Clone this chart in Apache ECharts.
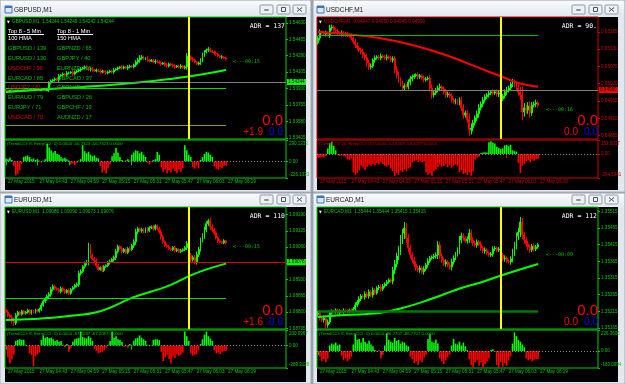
<!DOCTYPE html>
<html>
<head>
<meta charset="utf-8">
<script src="https://cdn.jsdelivr.net/npm/echarts@6.0.0/dist/echarts.min.js"></script>
<style>
html,body{margin:0;padding:0;background:#8d98a5;overflow:hidden;}
#chart{width:625px;height:384px;}
</style>
</head>
<body>
<div id="chart"></div>
<script>
// ================= DATA =================
const timeTicks = ['27 May 2015','27 May 04:43','27 May 04:59','27 May 05:15','27 May 05:31','27 May 05:47','27 May 06:03','27 May 06:19'];

// GBPUSD
const gbpOpen0 = 1.53915;
const gbpClose = [1.53915,1.53904,1.53915,1.53915,1.53904,1.53915,1.53915,1.53904,1.53915,1.53915,
1.53904,1.53915,1.53915,1.53915,1.53904,1.53915,1.53915,1.53904,1.53915,1.53915,
1.53904,1.53915,1.53989,1.54011,1.54021,1.54032,1.54021,1.54064,1.54074,1.54085,
1.54074,1.54096,1.54096,1.54106,1.54085,1.54106,1.54117,1.54128,1.54138,1.54149,
1.54160,1.54149,1.54128,1.54138,1.54128,1.54117,1.54128,1.54117,1.54106,1.54117,
1.54106,1.54096,1.54106,1.54117,1.54106,1.54128,1.54138,1.54149,1.54160,1.54149,
1.54160,1.54149,1.54160,1.54170,1.54160,1.54181,1.54213,1.54234,1.54255,1.54266,
1.54245,1.54255,1.54234,1.54223,1.54234,1.54213,1.54223,1.54213,1.54202,1.54191,
1.54202,1.54181,1.54170,1.54191,1.54181,1.54170,1.54160,1.54170,1.54160,1.54170,
1.54149,1.54160,1.54277,1.54266,1.54245,1.54234,1.54213,1.54191,1.54202,1.54234,
1.54287,1.54319,1.54340,1.54351,1.54330,1.54319,1.54308,1.54298,1.54277,1.54266,
1.54266,1.54255,1.54244];
// wick length beyond the body, in points (0.00001)
const gbpWick = [0,0,0,0,0,0,0,0,0,0,0,0,0,0,0,0,0,0,0,0,0,0,
20,15,10,15,10,20,10,15,10,20, 15,10,20,15,10,15,20,10,15,20,
10,15,20,10,15,10,20,15,10,20, 15,10,15,20,10,15,10,20,15,10,
20,15,10,15,20,25,30,20,15,10, 20,15,10,15,20,10,15,20,10,15,
20,15,10,15,20,10,15,20,10,15, 30,20,15,20,15,10,15,20,25,20,
15,20,15,10,15,20,10,15,20,10, 15];
const gbpHma = [[0,1.53894],[22,1.53925],[50,1.53963],[75,1.54011],[93,1.54058],[112,1.54128]];
const gbpCci = [40,30,50,20,-60,-190,-170,-120,-30,60,70,80,60,30,40,20,30,10,-20,10,
30,240,190,150,120,140,100,90,60,40,50,30,10,-40,-30,-50,-20,10,30,220,
140,110,130,90,70,80,50,40,-60,-150,-120,-160,-90,-40,70,110,180,120,60,20,
-10,10,30,10,90,120,150,140,110,130,90,60,-20,-40,-10,20,30,130,90,-80,
-140,-110,-160,-120,-150,-100,-130,-160,-110,-140,-90,220,150,90,60,-80,-100,-60,-90,20,
60,100,130,120,90,60,-70,-100,-110,-80,-90,-60,-57];
const gbpTicks = [1.54630,1.54455,1.54280,1.54105,1.53930,1.53755,1.53580,1.53405];
const gbpGray = [1.54500,1.54000,1.53500];

// USDCHF
const chfOpen0 = 0.95150;
const chfClose = [0.95165,0.95184,0.95181,0.95178,0.95181,0.95175,0.95197,0.95200,0.95191,0.95188,
0.95181,0.95178,0.95181,0.95175,0.95178,0.95175,0.95172,0.95165,0.95153,0.95143,
0.95134,0.95127,0.95121,0.95111,0.95102,0.95086,0.95073,0.95076,0.95095,0.95102,
0.95105,0.95102,0.95108,0.95105,0.95102,0.95105,0.95102,0.95095,0.95099,0.95064,
0.95048,0.95032,0.95019,0.95006,0.95013,0.95010,0.95025,0.95035,0.95041,0.95045,
0.95048,0.95041,0.95045,0.95038,0.95032,0.95035,0.95038,0.95006,0.94984,0.94990,
0.95000,0.95006,0.95010,0.95003,0.94994,0.94984,0.94987,0.94981,0.94968,0.94962,
0.94965,0.94959,0.94968,0.94943,0.94920,0.94927,0.94905,0.94873,0.94879,0.94895,
0.94911,0.94924,0.94943,0.94955,0.94968,0.94978,0.94984,0.94990,0.94994,0.94990,
0.94994,0.94987,0.94990,0.94971,0.94981,0.94994,0.95000,0.95006,0.95019,0.95025,
0.95016,0.95006,0.94994,0.94984,0.94930,0.94943,0.94936,0.94949,0.94927,0.94952,
0.94955,0.94959,0.94950];
const chfWick = [6,8,5,6,8,5,10,8,6,5, 6,5,8,6,5,6,5,8,6,10, 8,6,8,10,8,12,10,8,6,8,
5,6,8,5,6,8,5,6,8,10, 12,10,8,10,8,6,8,10,8,6, 5,8,6,5,8,6,5,10,12,8,
6,8,10,6,8,10,8,6,8,6, 8,6,8,10,12,8,10,20,15,10, 8,10,12,8,10,8,6,8,6,8,
6,8,10,8,6,8,10,8,6,10, 8,10,12,15,25,15,10,12,15,10, 8,10,6];
const chfMa = [[0,0.95184],[14,0.95178],[31,0.95165],[48,0.95143],[65,0.95111],[82,0.95070],[94,0.95041],[102,0.95022],[112,0.95010]];
const chfCci = [-30,-40,-35,-40,-20,60,120,135,90,40,-10,-20,-15,-25,-30,-60,-70,-50,-200,-230,
-210,-180,-130,-150,-175,-140,-120,-130,-110,-125,-100,-115,-95,-110,-130,-140,-120,-160,-190,-240,
-210,-230,-180,-200,-170,-190,-160,-150,-90,-80,-70,-85,-75,-90,-80,-200,-230,-210,-240,-190,
-170,-150,-120,-140,-130,-110,-145,-125,-150,-130,-115,-135,-200,-180,-220,-210,-230,-200,-240,-190,
-60,-40,-30,10,15,20,15,130,140,125,115,80,65,55,60,95,100,85,100,40,
30,25,-100,-210,-130,-110,-80,-70,-90,-60,-75,-55,-54];
const chfTicks = [0.95185,0.95130,0.95075,0.95020,0.94965,0.94910,0.94855];
const chfGray = [0.95000];

// EURUSD
const eurOpen0 = 1.08810;
const eurClose = [1.08800,1.08788,1.08780,1.08765,1.08757,1.08788,1.08800,1.08792,1.08804,1.08796,
1.08800,1.08808,1.08796,1.08804,1.08800,1.08808,1.08804,1.08812,1.08828,1.08844,
1.08852,1.08864,1.08872,1.08891,1.08903,1.08895,1.08891,1.08883,1.08895,1.08887,
1.08879,1.08887,1.08876,1.08891,1.08899,1.08907,1.08911,1.08955,1.08963,1.08982,
1.08994,1.09002,1.09062,1.09026,1.09014,1.09006,1.08986,1.08971,1.08978,1.08967,
1.08982,1.08986,1.08998,1.09002,1.09010,1.09018,1.09042,1.09062,1.09054,1.09042,
1.09050,1.09038,1.09054,1.09050,1.09066,1.09081,1.09121,1.09133,1.09125,1.09129,
1.09121,1.09133,1.09125,1.09137,1.09141,1.09133,1.09145,1.09133,1.09121,1.09101,
1.09081,1.09066,1.09062,1.09054,1.09050,1.09058,1.09046,1.09050,1.09042,1.09046,
1.09050,1.09058,1.09074,1.09026,1.09010,1.09018,1.09002,1.09030,1.09050,1.09089,
1.09105,1.09129,1.09153,1.09165,1.09141,1.09129,1.09117,1.09097,1.09085,1.09081,
1.09077,1.09085,1.09076];
const eurWick = [6,8,6,10,12,8,6,5,6,5, 5,6,5,6,5,6,5,6,8,6, 8,6,8,10,8,6,5,6,8,5,
6,5,8,6,5,6,8,10,8,6, 8,6,15,10,8,6,8,6,5,8, 6,5,6,8,6,8,10,8,6,8,
6,5,6,8,6,10,12,8,6,8, 6,5,8,6,5,8,6,5,8,10, 8,6,8,6,5,6,8,6,5,6,
5,6,10,12,10,8,10,12,10,8, 10,12,10,8,12,10,8,6,8,6, 5,6,5];
const eurMa = [[0,1.08769],[14,1.08773],[31,1.08784],[48,1.08804],[65,1.08860],[82,1.08903],[94,1.08947],[102,1.08971],[112,1.08994]];
const eurCci = [-30,-150,-230,-180,-120,60,70,80,70,75,10,-10,-100,-120,-270,-140,-110,-90,70,130,
100,110,95,100,80,60,70,50,60,10,-20,20,-80,-30,50,80,90,100,180,110,
100,90,120,100,60,-40,-70,-100,-90,-80,-60,-30,10,60,180,100,120,80,70,50,
-20,10,-30,20,-10,60,90,100,130,100,80,60,10,-10,5,70,80,80,70,-80,
-200,-150,-120,-170,-230,-140,-160,-110,-130,-120,-90,180,120,60,-100,-130,-120,-110,-60,20,
80,140,180,120,90,60,-60,-100,-90,-110,-80,-70,-67];
const eurTicks = [1.09190,1.09125,1.09060,1.08995,1.08930,1.08865,1.08800,1.08735];
const eurGray = [1.09000,1.08750];

// EURCAD
const cadOpen0 = 1.35205;
const cadClose = [1.35210,1.35195,1.35189,1.35195,1.35174,1.35183,1.35210,1.35216,1.35213,1.35219,
1.35210,1.35216,1.35213,1.35219,1.35216,1.35213,1.35219,1.35216,1.35222,1.35234,
1.35243,1.35252,1.35261,1.35258,1.35267,1.35261,1.35273,1.35264,1.35279,1.35270,
1.35285,1.35288,1.35282,1.35291,1.35297,1.35303,1.35309,1.35306,1.35339,1.35357,
1.35381,1.35399,1.35429,1.35450,1.35465,1.35435,1.35405,1.35384,1.35369,1.35357,
1.35345,1.35339,1.35345,1.35333,1.35342,1.35354,1.35366,1.35375,1.35378,1.35381,
1.35384,1.35414,1.35381,1.35369,1.35357,1.35363,1.35354,1.35348,1.35363,1.35375,
1.35387,1.35399,1.35429,1.35441,1.35435,1.35426,1.35432,1.35450,1.35429,1.35420,
1.35414,1.35423,1.35417,1.35405,1.35396,1.35399,1.35390,1.35384,1.35387,1.35402,
1.35405,1.35399,1.35402,1.35384,1.35372,1.35375,1.35366,1.35363,1.35372,1.35393,
1.35411,1.35441,1.35453,1.35483,1.35444,1.35429,1.35417,1.35408,1.35399,1.35411,
1.35402,1.35408,1.35415];
const cadWick = [6,8,6,8,10,8,6,5,4,5, 4,5,4,5,4,5,4,5,6,8, 6,8,6,5,8,6,8,6,8,6,
5,6,8,6,5,6,5,6,10,12, 10,12,15,12,18,15,12,10,8,10, 8,6,8,6,8,6,8,6,5,6,
8,12,10,8,6,8,6,8,10,8, 6,8,12,10,8,6,8,12,10,8, 6,8,6,8,6,8,6,5,6,8,
6,5,6,8,6,8,6,5,8,10, 12,10,12,15,12,10,8,10,8,6, 8,6,5];
const cadMa = [[0,1.35198],[14,1.35204],[31,1.35210],[43,1.35225],[56,1.35249],[73,1.35285],[82,1.35300],[94,1.35324],[102,1.35339],[112,1.35357]];
const cadCci = [-20,-60,-110,-90,-120,-80,60,80,70,90,60,70,-50,-100,-80,-110,-90,-60,70,180,
120,130,90,140,100,80,110,70,50,10,-10,5,-80,-40,60,190,120,100,90,140,
110,120,80,100,90,60,50,-60,-90,-130,-110,-150,-100,-120,-70,-40,130,180,100,90,
120,80,-80,-110,-140,-100,-70,-40,60,130,80,70,100,60,90,50,10,-90,-150,-180,
-120,-100,-160,-120,-180,-140,-110,-80,10,20,-10,-150,-180,-120,-170,-130,-160,-100,-60,80,
200,160,120,100,70,40,-80,-100,-90,-110,-95,-85,-87];
const cadTicks = [1.35515,1.35465,1.35415,1.35365,1.35315,1.35265,1.35215,1.35165];
const cadGray = [1.35480,1.35230];

// Top 8 lists (GBPUSD window)
const top5Min = [['GBPUSD / 139','g'],['EURUSD / 130','g'],['USDCHF / 96','r'],['EURCAD / 85','g'],['USDJPY / 81','r'],['EURAUD / 79','g'],['EURJPY / 71','g'],['USDCAD / 70','r']];
const top1Min = [['GBPNZD / 65','g'],['GBPJPY / 40','g'],['EURNZD / 38','g'],['GBPCAD / 37','g'],['GBPAUD / 27','g'],['GBPUSD / 26','g'],['GBPCHF / 19','g'],['AUDNZD / 17','g']];

// ================= BUILD =================
const SANS = 'Liberation Sans', MONO = 'DejaVu Sans Mono';
const UP = '#00ff00', DOWN = '#ff0000';
const GREEN = '#00d000', REDFG = '#d00000';
const categories = [];
for (let k = 0; k < 143; k++) {
  const m = 4 * 60 + 27 + k;
  categories.push(String(Math.floor(m / 60)).padStart(2, '0') + ':' + String(m % 60).padStart(2, '0'));
}
const LAST = 112, VLINE = 93;

const panels = [
  {title:'GBPUSD,M1', ox:0, oy:0, fg:GREEN, open0:gbpOpen0, close:gbpClose, wick:gbpWick, ma:gbpHma, maColor:'#00ff00',
   cci:gbpCci, cciMax:290.1333, cciMin:-226.1333, min:1.53393, max:1.54692, ticks:gbpTicks, gray:gbpGray,
   full:[], segs:[{v:1.53936,c:'#00e000',w:1},{v:1.53542,c:'#9a9a00',w:1}], box:'#00ff00', boxText:'#000',
   ohlc:'GBPUSD,M1  1.54244 1.54249 1.54242 1.54244', adr:'ADR = 137', arrow:'<---00:15', ax:233, ay:62,
   small:'+1.9', bigR:283, smR:263, bluR:283,
   cciHead:'(TrendCCI: 8, EntryCCI: 0) 0.0000 -56.7323 -56.7323 0.0000'},
  {title:'USDCHF,M1', ox:312, oy:0, fg:REDFG, open0:chfOpen0, close:chfClose, wick:chfWick, ma:chfMa, maColor:'#ff0000',
   cci:chfCci, cciMax:153.5037, cciMin:-264.5341, min:0.94844, max:0.95232, ticks:chfTicks, gray:chfGray,
   full:[], segs:[{v:0.95175,c:'#00c000',w:1}], box:'#ff0000', boxText:'#000',
   ohlc:'USDCHF,M1  0.94947 0.94950 0.94945 0.94950', adr:'ADR = 90.', arrow:'<---00:16', ax:546, ay:110,
   small:'0.0', bigR:598, smR:578, bluR:598,
   cciHead:'(TrendCCI: 20, EntryCCI: 0) 0.0000 -54.4259 -54.4259 0.0000'},
  {title:'EURUSD,M1', ox:0, oy:190, fg:GREEN, open0:eurOpen0, close:eurClose, wick:eurWick, ma:eurMa, maColor:'#00ff00',
   cci:eurCci, cciMax:200.0967, cciMin:-289.3128, min:1.08733, max:1.09220, ticks:eurTicks, gray:eurGray,
   full:[{v:1.09180,c:'#e00000'}], segs:[{v:1.08856,c:'#00e000',w:1}], box:'#00ff00', boxText:'#000',
   ohlc:'EURUSD,M1  1.09086 1.09090 1.09073 1.09076', adr:'ADR = 110', arrow:'<---00:15', ax:233, ay:247,
   small:'+1.6', bigR:283, smR:263, bluR:283,
   cciHead:'(TrendCCI: 8, EntryCCI: 0) 0.0000 -67.2087 -67.2087 0.0000'},
  {title:'EURCAD,M1', ox:312, oy:190, fg:GREEN, open0:cadOpen0, close:cadClose, wick:cadWick, ma:cadMa, maColor:'#00ff00',
   cci:cadCci, cciMax:226.3606, cciMin:-183.0994, min:1.35162, max:1.35528, ticks:cadTicks, gray:cadGray,
   full:[], segs:[{v:1.35216,c:'#007a00',w:2.5}], box:'#00ff00', boxText:'#000',
   ohlc:'EURCAD,M1  1.35444 1.35444 1.35415 1.35415', adr:'ADR = 112', arrow:'<---00:09', ax:546, ay:255,
   small:'0.0', bigR:598, smR:578, bluR:598,
   cciHead:'(TrendCCI: 8, EntryCCI: 0) 0.0000 -86.7707 -86.7707 0.0000'}
];

function candles(open0, closes, wick) {
  return closes.map((c, i) => {
    const o = i === 0 ? open0 : closes[i - 1];
    const w = wick[i] * 0.00001;
    return [o, c, Math.min(o, c) - w, Math.max(o, c) + w];
  });
}
function boxLabel(text, bg, fg) {
  return {show:true, position:'end', distance:1, formatter:text, backgroundColor:bg, color:fg,
          fontSize:4.6, fontFamily:SANS, padding:[1,1,0,1], lineHeight:5};
}
function txt(x, y, text, fill, size, family, align, extra) {
  return Object.assign({type:'text', z:100, x:x, y:y, silent:true,
    style:{text:text, fill:fill, fontSize:size, fontFamily:family || SANS, align:align || 'left', verticalAlign:'middle'}}, extra || {});
}

const grids = [], xAxes = [], yAxes = [], series = [], elems = [];
const tickFn = (i) => i % 16 === 0 && i <= LAST;

panels.forEach((p, k) => {
  const gl = p.ox + 5, gt = p.oy + 17;
  // ---- window chrome ----
  const wx = p.ox === 0 ? 0 : 313, ww = p.ox === 0 ? 311 : 312;
  const wy = p.oy === 0 ? 0 : 193, wh = p.oy === 0 ? 192 : 191;
  const ty = p.oy === 0 ? 1 : 194;
  elems.push({type:'rect', z:-30, silent:true, shape:{x:wx, y:wy, width:ww, height:wh}, style:{fill:'#e3e8ee', stroke:'#a3adb8', lineWidth:1}});
  elems.push({type:'rect', z:-29, silent:true, shape:{x:wx+1, y:ty, width:ww-2, height:15},
    style:{fill:new echarts.graphic.LinearGradient(0,0,0,1,[{offset:0,color:'#f9fafc'},{offset:1,color:'#e1e7ee'}])}});
  elems.push({type:'rect', z:-28, silent:true, shape:{x:p.ox+5, y:p.oy+6, width:7, height:7}, style:{fill:'#dce9f7', stroke:'#3d76b8', lineWidth:1}});
  elems.push({type:'rect', z:-27, silent:true, shape:{x:p.ox+5, y:p.oy+6, width:7, height:2}, style:{fill:'#3d76b8'}});
  elems.push(txt(p.ox+14, p.oy+10, p.title, '#222', 6.5, SANS, 'left', {z:-27}));
  const bx = [p.ox+260, p.ox+277, p.ox+293];
  bx.forEach((x, b) => {
    const y = p.oy + 5;
    elems.push({type:'rect', z:-28, silent:true, shape:{x:x, y:y, width:13, height:9, r:1}, style:{fill:'#eef1f4', stroke:'#8e99a6', lineWidth:1}});
    if (b === 0) elems.push({type:'rect', z:-27, silent:true, shape:{x:x+4, y:y+4, width:5, height:2, r:1}, style:{fill:'#8a94a0'}});
    if (b === 1) elems.push({type:'rect', z:-27, silent:true, shape:{x:x+4.5, y:y+2.5, width:4, height:4}, style:{fill:'none', stroke:'#4a5563', lineWidth:1}});
    if (b === 2) {
      elems.push({type:'line', z:-27, silent:true, shape:{x1:x+4, y1:y+2.5, x2:x+9, y2:y+6.5}, style:{stroke:'#4a5563', lineWidth:1}});
      elems.push({type:'line', z:-27, silent:true, shape:{x1:x+9, y1:y+2.5, x2:x+4, y2:y+6.5}, style:{stroke:'#4a5563', lineWidth:1}});
    }
  });
  elems.push({type:'rect', z:-20, silent:true, shape:{x:p.ox+5, y:p.oy+17, width:301, height:p.oy===0?173:175}, style:{fill:'#000'}});

  // ---- overlays ----
  elems.push(txt(p.ox+7, p.oy+22, '\u25BC', '#ffffff', 3.5, 'DejaVu Sans'));
  elems.push(txt(p.ox+12, p.oy+22, p.ohlc, p.fg, 4.7));
  elems.push(txt(p.ox+285, p.oy+26, p.adr, '#ffffff', 6.5, MONO, 'right'));
  elems.push(txt(p.ax, p.ay, p.arrow, '#00c000', 5, MONO));
  elems.push(txt(p.bigR, p.oy+121, '0.0', '#ff0000', 15, SANS, 'right'));
  elems.push(txt(p.smR, p.oy+132, p.small, '#ff0000', 10, SANS, 'right'));
  elems.push(txt(p.bluR, p.oy+132, '0.0', '#0000ff', 10, SANS, 'right'));
  elems.push(txt(p.ox+7, p.oy+144, p.cciHead, p.fg, 4.3));

  // ---- grids & axes ----
  grids.push({left:gl, top:gt, width:281, height:122, show:true, borderColor:p.fg, borderWidth:1, backgroundColor:'transparent', containLabel:false, outerBoundsMode:'none'});
  grids.push({left:gl, top:gt+123, width:281, height:38, show:true, borderColor:p.fg, borderWidth:1, backgroundColor:'transparent', containLabel:false, outerBoundsMode:'none'});
  xAxes.push({gridIndex:2*k, type:'category', data:categories, boundaryGap:true,
    axisLine:{show:false}, axisTick:{show:false}, axisLabel:{show:false}, splitLine:{show:false}});
  xAxes.push({gridIndex:2*k+1, type:'category', data:categories, boundaryGap:true,
    axisLine:{show:false}, splitLine:{show:false},
    axisTick:{show:true, interval:tickFn, alignWithLabel:true, length:4, lineStyle:{color:p.fg, width:1}},
    axisLabel:{show:true, interval:tickFn, formatter:(v, i) => timeTicks[i / 16] || '', align:'left',
      padding:[0,0,0,2], color:p.fg, fontSize:4.6, fontFamily:SANS, margin:1}});
  yAxes.push({gridIndex:2*k, type:'value', position:'right', min:p.min, max:p.max, scale:true,
    splitLine:{show:false}, axisLine:{show:false},
    axisTick:{show:true, length:2, customValues:p.ticks, lineStyle:{color:p.fg}},
    axisLabel:{show:true, customValues:p.ticks, formatter:(v) => v.toFixed(5), color:p.fg, fontSize:4.6, fontFamily:SANS, margin:3}});
  const cv = [p.cciMax, 0, p.cciMin];
  yAxes.push({gridIndex:2*k+1, type:'value', position:'right', min:p.cciMin, max:p.cciMax,
    splitLine:{show:false}, axisLine:{show:false},
    axisTick:{show:true, length:2, customValues:cv, lineStyle:{color:p.fg}},
    axisLabel:{show:true, customValues:cv, color:p.fg, fontSize:4.5, fontFamily:SANS, margin:3,
      formatter:(v) => v === 0 ? '0.00' : (v > 0 ? '{t|' + v.toFixed(4) + '}' : '{b|' + v.toFixed(4) + '}'),
      rich:{t:{padding:[7,0,0,0], color:p.fg, fontSize:4.5, fontFamily:SANS}, b:{padding:[0,0,7,0], color:p.fg, fontSize:4.5, fontFamily:SANS}}}});

  // ---- series ----
  const last = p.close[p.close.length - 1];
  const ml = [];
  p.gray.forEach(v => ml.push({yAxis:v, lineStyle:{color:'#7f7f7f', width:1, type:'solid'}, label:boxLabel(v.toFixed(5), '#a8a8a8', '#000')}));
  p.full.forEach(f => ml.push({yAxis:f.v, lineStyle:{color:f.c, width:1, type:'solid'}, label:boxLabel(f.v.toFixed(5), f.c, '#000')}));
  p.segs.forEach(s => ml.push([{coord:[categories[0], s.v], lineStyle:{color:s.c, width:s.w, type:'solid'}, label:{show:false}}, {coord:[categories[LAST], s.v]}]));
  ml.push({xAxis:categories[VLINE], lineStyle:{color:'#ffff00', width:2, type:'solid'}, label:{show:false}});
  ml.push({yAxis:last, lineStyle:{color:'rgba(0,0,0,0)', width:1}, label:boxLabel(last.toFixed(5), p.box, p.boxText)});

  series.push({type:'candlestick', xAxisIndex:2*k, yAxisIndex:2*k, data:candles(p.open0, p.close, p.wick), barWidth:1.4,
    itemStyle:{color:UP, color0:DOWN, borderColor:UP, borderColor0:DOWN, borderColorDoji:UP, borderWidth:1},
    markLine:{silent:true, symbol:['none','none'], animation:false, data:ml}, z:2});
  series.push({type:'line', xAxisIndex:2*k, yAxisIndex:2*k, data:p.ma, showSymbol:false, smooth:0.4,
    lineStyle:{color:p.maColor, width:2}, z:3, silent:true});
  series.push({type:'bar', xAxisIndex:2*k+1, yAxisIndex:2*k+1, barWidth:1.6,
    data:p.cci.map(v => ({value:v, itemStyle:{color: v >= 0 ? UP : DOWN}})),
    markLine:{silent:true, symbol:['none','none'], animation:false,
      data:[{yAxis:0, lineStyle:{color:'#8a8a8a', width:1, type:[1,2]}, label:{show:false}}]}, silent:true});
});

// Top 8 block (GBPUSD window)
elems.push(txt(8, 31.7, 'Top 8 - 5 Min', '#ffffff', 5.7));
elems.push(txt(57, 31.7, 'Top 8 - 1 Min', '#ffffff', 5.7));
elems.push({type:'line', z:100, silent:true, shape:{x1:8, y1:34.5, x2:44, y2:34.5}, style:{stroke:'#ffffff', lineWidth:1}});
elems.push({type:'line', z:100, silent:true, shape:{x1:57, y1:34.5, x2:93, y2:34.5}, style:{stroke:'#ffffff', lineWidth:1}});
elems.push(txt(8, 38.5, '100 HMA', '#ffffff', 5.7));
elems.push(txt(57, 38.5, '150 HMA', '#ffffff', 5.7));
top5Min.forEach((r, i) => elems.push(txt(8, 48.3 + i * 9.9, r[0], r[1] === 'g' ? '#00c000' : '#e00000', 5.7)));
top1Min.forEach((r, i) => elems.push(txt(57, 48.3 + i * 9.9, r[0], r[1] === 'g' ? '#00c000' : '#e00000', 5.7)));

const chart = echarts.init(document.getElementById('chart'), null, {renderer:'canvas'});
chart.setOption({
  backgroundColor:'#8d98a5',
  animation:false,
  textStyle:{fontFamily:SANS},
  grid:grids, xAxis:xAxes, yAxis:yAxes, series:series,
  graphic:{elements:elems}
});
</script>
</body>
</html>
